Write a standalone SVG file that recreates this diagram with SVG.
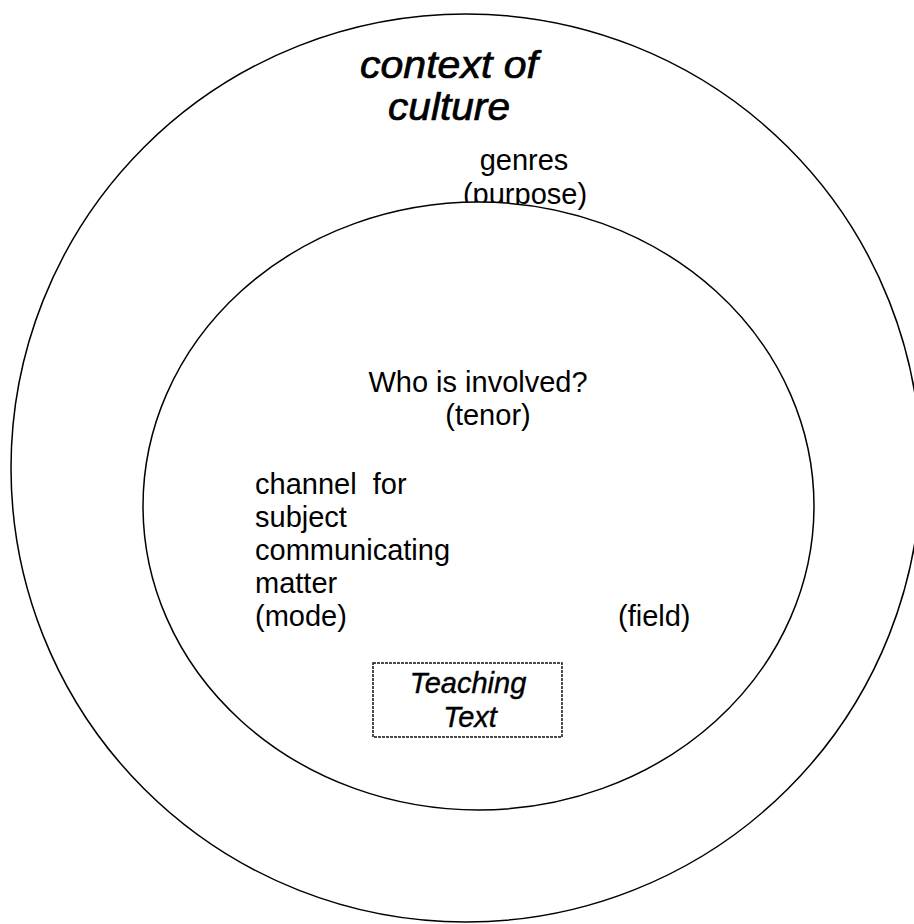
<svg xmlns="http://www.w3.org/2000/svg" width="914" height="924" viewBox="0 0 914 924">
<style>
.ring{fill:#fff;stroke:#000;stroke-width:1.5}
.t{font-family:"Liberation Sans",Arial,sans-serif;font-size:29px;fill:#000}
.ti{font-family:"Liberation Sans",Arial,sans-serif;font-style:italic;fill:#000;stroke:#000}
.box{fill:#fff;stroke:#111;stroke-width:1.5;stroke-dasharray:3 1}
</style>
<rect width="914" height="924" fill="#fff"/>
<g id="context-of-culture">
<ellipse class="ring" cx="466" cy="468" rx="455" ry="454"/>
<text class="ti" font-size="38" stroke-width="0.7"><tspan x="360" y="78" textLength="178" lengthAdjust="spacingAndGlyphs">context of</tspan><tspan x="388" y="120" textLength="122" lengthAdjust="spacingAndGlyphs">culture</tspan></text>
<text class="t" font-size="28" text-anchor="middle"><tspan x="524" y="170">genres</tspan><tspan x="525" y="204">(purpose)</tspan></text>
</g>
<g id="context-of-situation">
<ellipse class="ring" cx="478.5" cy="506" rx="335.5" ry="304"/>
<text class="t" text-anchor="middle"><tspan x="478" y="392">Who is involved?</tspan><tspan x="488" y="425">(tenor)</tspan></text>
<text class="t" xml:space="preserve"><tspan x="255" y="494">channel  for</tspan><tspan x="255" y="527">subject</tspan><tspan x="255" y="560">communicating</tspan><tspan x="255" y="593">matter</tspan><tspan x="255" y="626">(mode)</tspan></text>
<text class="t" x="618" y="626">(field)</text>
</g>
<g id="teaching-text">
<rect class="box" x="373" y="663" width="189" height="74"/>
<text class="ti" font-size="29" stroke-width="0.4" text-anchor="middle"><tspan x="468" y="693">Teaching</tspan><tspan x="470" y="727">Text</tspan></text>
</g>
<g id="connectors"></g>
</svg>
